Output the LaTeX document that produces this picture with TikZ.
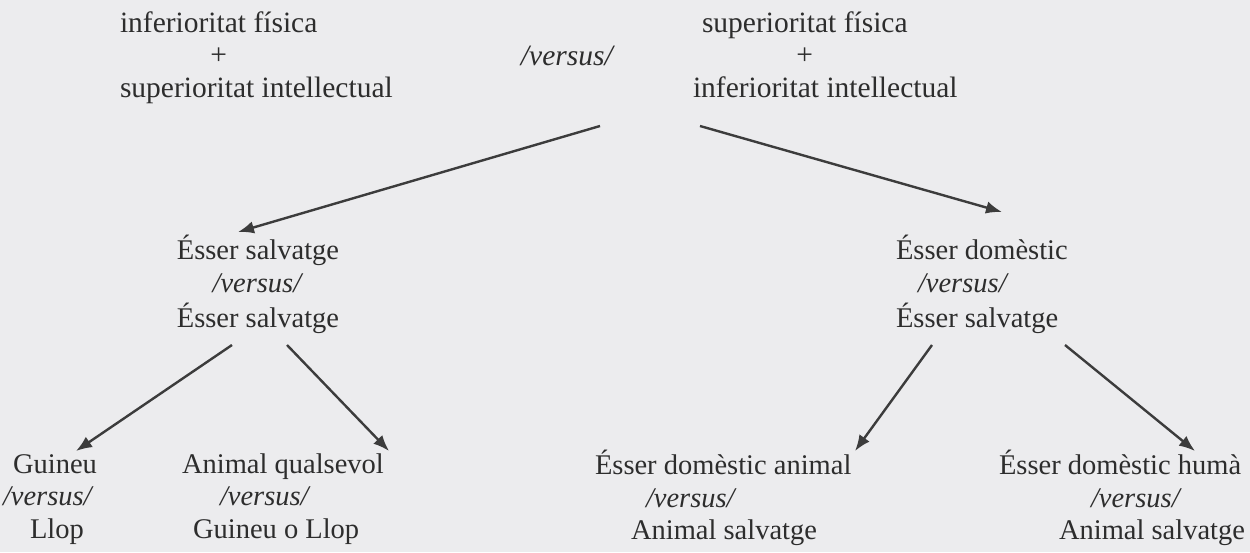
\documentclass[tikz,border=0pt]{standalone}
\usepackage{fontspec}
\setmainfont{Liberation Serif}
\usetikzlibrary{arrows.meta}
\definecolor{paper}{RGB}{236,236,238}
\definecolor{ink}{RGB}{45,45,45}
\definecolor{arrowc}{RGB}{60,60,60}
\newlength\halfw
\newcommand\vs{\textit{/versus/}}
\newcommand\plusunder[1]{\settowidth{\halfw}{#1}\hspace*{0.5\halfw}\makebox[0pt]{+}}
\tikzset{
  txt/.style={inner sep=0pt, outer sep=0pt, text=ink, font=\fontsize{28.5}{32.5}\selectfont, anchor=north west, align=left},
  txttop/.style={txt, font=\fontsize{29.5}{32.5}\selectfont},
  txtc/.style={txt, anchor=north, align=center},
  arr/.style={draw=arrowc, line width=2.4pt, -{Latex[length=16pt,width=12.5pt]}},
}
\begin{document}
\begin{tikzpicture}[x=1pt,y=-1pt]
\fill[paper] (0,0) rectangle (1250,552);
\useasboundingbox (0,0) rectangle (1250,552);
% top level
\node[txttop] (tl) at (120,9.25) {\strut inferioritat física\\ \strut\plusunder{inferioritat física}\\ \strut superioritat intellectual};
\node[txttop, anchor=base] (vs) at (568,65) {\vs};
\node[txttop] (tr) at (693,9.25) {\strut\hspace*{9pt}superioritat física\\ \strut\hspace*{9pt}\plusunder{superioritat física}\\ \strut inferioritat intellectual};
% middle level
\node[txtc] (ml) at (258,235.25) {\strut Ésser salvatge\\ \strut\vs\\ \strut Ésser salvatge};
\node[txt] (mr) at (896,235.25) {\strut Ésser domèstic\\ \strut\hspace*{22pt}\vs\\ \strut Ésser salvatge};
% bottom level
\node[txt] (b1) at (3,450.25) {\strut\hspace*{10pt}Guineu\\ \strut\vs\\ \strut\hspace*{27pt}Llop};
\node[txt] (b2) at (182,450.25) {\strut Animal qualsevol\\ \strut\hspace*{38pt}\vs\\ \strut\hspace*{11pt}Guineu o Llop};
\node[txt] (b3) at (595,450.25) {\strut Ésser domèstic animal\\ \strut\hspace*{51pt}\vs\\ \strut\hspace*{36pt}Animal salvatge};
\node[txt] (b4) at (999,450.25) {\strut Ésser domèstic humà\\ \strut\hspace*{92pt}\vs\\ \strut\hspace*{60pt}Animal salvatge};
% arrow end points
\coordinate (s1) at (600,126);  \coordinate (e1) at (238,232);
\coordinate (s2) at (700,126);  \coordinate (e2) at (1002,212);
\coordinate (s3) at (232,345);  \coordinate (e3) at (76,451);
\coordinate (s4) at (287,345);  \coordinate (e4) at (389,451);
\coordinate (s5) at (932,345);  \coordinate (e5) at (855,451);
\coordinate (s6) at (1065,345); \coordinate (e6) at (1195,451);
\draw[arr] (s1) -- (e1);
\draw[arr] (s2) -- (e2);
\draw[arr] (s3) -- (e3);
\draw[arr] (s4) -- (e4);
\draw[arr] (s5) -- (e5);
\draw[arr] (s6) -- (e6);
\end{tikzpicture}
\end{document}
